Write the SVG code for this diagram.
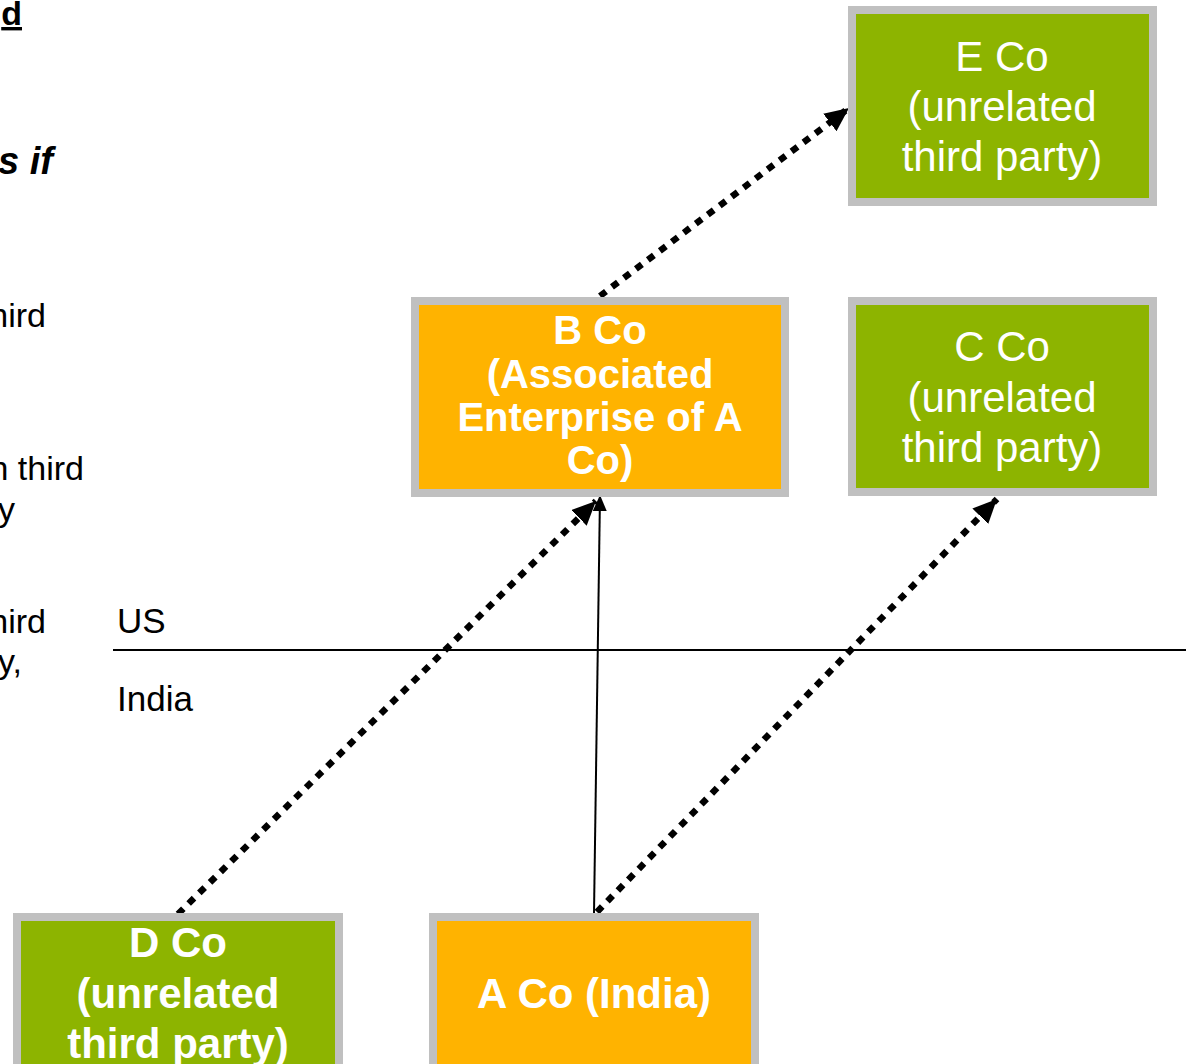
<svg xmlns="http://www.w3.org/2000/svg" width="1194" height="1064" viewBox="0 0 1194 1064">
<style>
.box{stroke:#c0c0c0;stroke-width:8}
.g{fill:#8db400}
.o{fill:#ffb300}
.t{font-family:"Liberation Sans",Arial,sans-serif;fill:#fff;text-anchor:middle}
.b{font-weight:bold}
.lbl{font-family:"Liberation Sans",Arial,sans-serif;fill:#000}
.dot{fill:none;stroke:#000;stroke-width:6.5;stroke-dasharray:7.5 7.5}
</style>
<defs>
<marker id="ah" markerUnits="userSpaceOnUse" markerWidth="30" markerHeight="26" refX="24" refY="11" orient="auto" viewBox="0 0 30 26">
<path d="M0,0 L24,11 L0,22 z" fill="#000"/>
</marker>
<marker id="ahs" markerUnits="userSpaceOnUse" markerWidth="20" markerHeight="16" refX="16" refY="7" orient="auto" viewBox="0 0 20 16">
<path d="M0,0 L16,7 L0,14 z" fill="#000"/>
</marker>
</defs>
<rect width="1194" height="1064" fill="#fff"/>
<g id="sidetext" class="lbl">
<text x="22" y="25" font-size="34" font-weight="bold" text-anchor="end" text-decoration="underline">d</text>
<text x="53" y="174" font-size="38" font-weight="bold" font-style="italic" text-anchor="end">s if</text>
<text x="46" y="327" font-size="34" text-anchor="end">hird</text>
<text x="84" y="480" font-size="34" text-anchor="end">n third</text>
<text x="-2" y="521" font-size="34">y</text>
<text x="46" y="633" font-size="34" text-anchor="end">hird</text>
<text x="-2" y="673" font-size="34">y,</text>
</g>
<g id="border">
<line x1="113" y1="650" x2="1186" y2="650" stroke="#000" stroke-width="2"/>
<text class="lbl" x="117" y="633" font-size="35">US</text>
<text class="lbl" x="117" y="711" font-size="35">India</text>
</g>
<g id="connectors">
<line class="dot" x1="178" y1="914" x2="596" y2="501" marker-end="url(#ah)"/>
<line x1="594" y1="913" x2="600" y2="495" stroke="#000" stroke-width="2" marker-end="url(#ahs)"/>
<line class="dot" x1="597" y1="912" x2="997" y2="499" marker-end="url(#ah)"/>
<line class="dot" x1="600" y1="296" x2="849" y2="108" marker-end="url(#ah)"/>
</g>
<g id="eco">
<rect class="box g" x="852" y="10" width="301" height="192"/>
<text class="t" font-size="42"><tspan x="1002" y="71">E Co</tspan><tspan x="1002" y="121">(unrelated</tspan><tspan x="1002" y="171">third party)</tspan></text>
</g>
<g id="cco">
<rect class="box g" x="852" y="301" width="301" height="191"/>
<text class="t" font-size="42"><tspan x="1002" y="361">C Co</tspan><tspan x="1002" y="412">(unrelated</tspan><tspan x="1002" y="462">third party)</tspan></text>
</g>
<g id="bco">
<rect class="box o" x="415" y="301" width="370" height="192"/>
<text class="t b" font-size="40"><tspan x="600" y="344">B Co</tspan><tspan x="600" y="388">(Associated</tspan><tspan x="600" y="431">Enterprise of A</tspan><tspan x="600" y="474">Co)</tspan></text>
</g>
<g id="dco">
<rect class="box g" x="17" y="917" width="322" height="200"/>
<text class="t b" font-size="42"><tspan x="178" y="957">D Co</tspan><tspan x="178" y="1008">(unrelated</tspan><tspan x="178" y="1058">third party)</tspan></text>
</g>
<g id="aco">
<rect class="box o" x="433" y="917" width="322" height="200"/>
<text class="t b" font-size="42" x="594" y="1008">A Co (India)</text>
</g>
</svg>
